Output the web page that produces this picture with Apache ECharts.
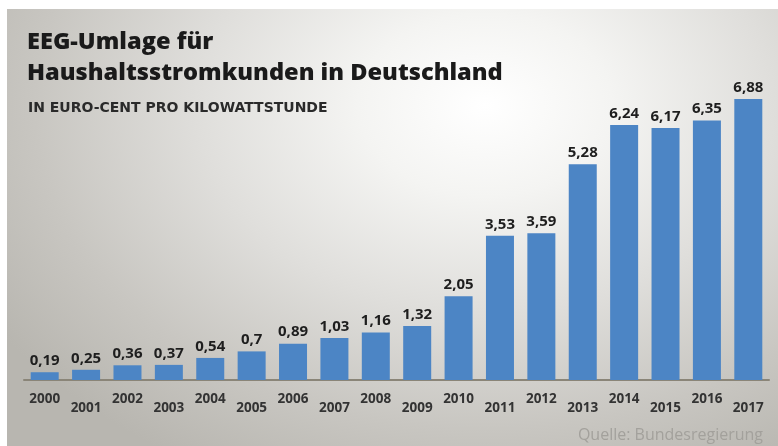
<!DOCTYPE html>
<html><head><meta charset="utf-8">
<script src="https://cdn.jsdelivr.net/npm/echarts@6/dist/echarts.min.js"></script>
<style>
html,body{margin:0;padding:0;background:#fff;}
#wrap{position:absolute;left:7px;top:9px;width:771px;height:437px;
background:radial-gradient(ellipse 75% 95% at 62% 22%, #ffffff 0%, #f4f4f2 22%, #dfdedb 50%, #c8c6c1 78%, #b8b6b0 100%);}
#c{position:absolute;left:0;top:0;width:778px;height:446px;}
</style></head>
<body><div id="wrap"></div><div id="c"></div>
<script>
const years = ['2000','2001','2002','2003','2004','2005','2006','2007','2008','2009','2010','2011','2012','2013','2014','2015','2016','2017'];
const values = [0.19,0.25,0.36,0.37,0.54,0.7,0.89,1.03,1.16,1.32,2.05,3.53,3.59,5.28,6.24,6.17,6.35,6.88];
const titleLines = ['EEG-Umlage für', 'Haushaltsstromkunden in Deutschland'];
const subtitle = 'IN EURO-CENT PRO KILOWATTSTUNDE';
const source = 'Quelle: Bundesregierung';

const chart = echarts.init(document.getElementById('c'), null, {renderer:'canvas'});
const fmt = v => String(v).replace('.', ',');
chart.setOption({
  animation:false,
  backgroundColor:'transparent',
  title:[
    {text:titleLines.join('\n'), left:22, top:22,
     textStyle:{fontFamily:'Open Sans', fontWeight:800, fontSize:23.6, color:'#1a1a1a', lineHeight:31}},
    {text:subtitle, left:23, top:96,
     textStyle:{fontFamily:'DejaVu Sans', fontWeight:'bold', fontSize:14, color:'#2a2a2a'}},
    {text:source, right:10, top:422,
     textStyle:{fontFamily:'Open Sans', fontWeight:'normal', fontSize:16, color:'#a3a19c'}}
  ],
  grid:{left:24, right:9, top:94, bottom:66, containLabel:false},
  xAxis:{type:'category', data:years,
    axisLine:{lineStyle:{color:'#8a8578', width:2}},
    axisTick:{show:false},
    axisLabel:{interval:0, margin:12, color:'#2e2e2e',
      formatter:(v,i)=> i%2 ? '{b|'+v+'}' : '{a|'+v+'}',
      rich:{a:{fontFamily:'Open Sans', fontWeight:'bold', fontSize:13.5, color:'#333'},
            b:{fontFamily:'Open Sans', fontWeight:'bold', fontSize:13.5, color:'#333', padding:[9,0,0,0]}}}
  },
  yAxis:{type:'value', min:0, max:7, show:false, splitLine:{show:false}},
  series:[{type:'bar', data:values, barWidth:28,
    itemStyle:{color:'#4c85c5'},
    label:{show:true, position:'top', distance:4, formatter:p=>fmt(p.value),
      fontFamily:'Open Sans', fontWeight:'bold', fontSize:15, color:'#1e1e1e'}
  }]
});
</script></body></html>
